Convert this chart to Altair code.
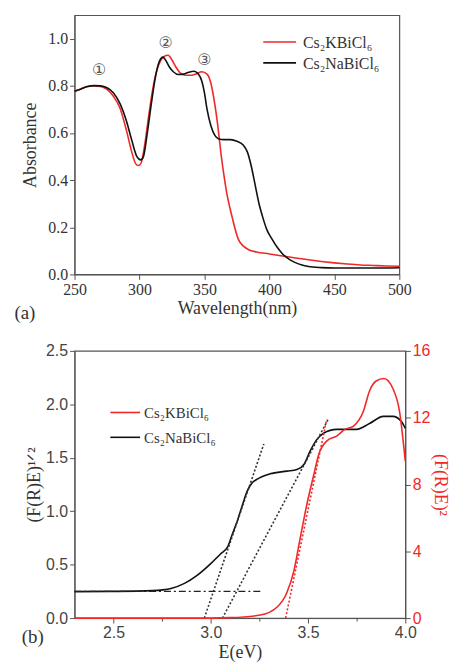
import altair as alt
import pandas as pd

# ---------------- data: panel (a) ----------------
wl_K = [250, 255, 260, 265, 270, 275, 280, 285, 290, 294, 297, 299, 301, 304, 307, 310, 313, 316, 319, 322,
        325, 328, 331, 335, 340, 344, 348, 352, 355, 358, 360.5, 363, 365, 367, 371, 376, 380, 384, 390, 400,
        410, 420, 430, 440, 450, 460, 470, 480, 490, 500]
abs_K = [0.777, 0.787, 0.797, 0.800, 0.798, 0.785, 0.755, 0.705, 0.61, 0.52, 0.47, 0.462, 0.47, 0.55, 0.67, 0.78,
         0.86, 0.905, 0.925, 0.93, 0.91, 0.88, 0.857, 0.845, 0.845, 0.852, 0.86, 0.85, 0.81, 0.72, 0.62, 0.5,
         0.42, 0.35, 0.25, 0.15, 0.12, 0.105, 0.095, 0.087, 0.078, 0.07, 0.062, 0.055, 0.049, 0.044, 0.04,
         0.038, 0.036, 0.035]
wl_Na = [250, 255, 260, 265, 270, 275, 280, 285, 290, 294, 298, 301, 303, 306, 309, 312, 315, 318, 320, 323,
         326, 330, 334, 338, 342, 345, 348, 350, 352, 355, 358, 361, 365, 370, 375, 380, 383, 386, 389, 392,
         395, 398, 402, 406, 410, 415, 420, 425, 430, 440, 450, 470, 490, 500]
abs_Na = [0.777, 0.787, 0.797, 0.801, 0.8, 0.792, 0.77, 0.725, 0.65, 0.57, 0.5, 0.486, 0.5, 0.6, 0.72, 0.83,
          0.9, 0.922, 0.91, 0.88, 0.86, 0.848, 0.85, 0.858, 0.862, 0.852, 0.82, 0.77, 0.7, 0.63, 0.59, 0.575,
          0.572, 0.572, 0.565, 0.548, 0.52, 0.46, 0.38, 0.3, 0.24, 0.19, 0.15, 0.115, 0.088, 0.065, 0.05, 0.04,
          0.034, 0.029, 0.027, 0.027, 0.027, 0.028]
peak_labels = ["①", "②", "③"]
peak_x = [269, 320, 350]
peak_y = [0.866, 0.98, 0.91]

# ---------------- data: panel (b) ----------------
E_Na = [2.30, 2.50, 2.70, 2.80, 2.865, 2.93, 3.00, 3.05, 3.086, 3.11, 3.137, 3.165, 3.188, 3.21, 3.239, 3.305,
        3.392, 3.443, 3.48, 3.51, 3.545, 3.58, 3.647, 3.75, 3.816, 3.887, 3.936, 3.98, 4.00]
F_Na = [0.248, 0.25, 0.257, 0.28, 0.325, 0.40, 0.51, 0.60, 0.663, 0.78, 0.91, 1.07, 1.19, 1.26, 1.30, 1.35,
        1.375, 1.39, 1.44, 1.56, 1.67, 1.73, 1.766, 1.766, 1.82, 1.887, 1.887, 1.84, 1.775]
E_K = [2.30, 2.60, 2.90, 3.10, 3.254, 3.34, 3.39, 3.428, 3.46, 3.494, 3.53, 3.555, 3.596, 3.647, 3.69, 3.734,
       3.785, 3.816, 3.85, 3.89, 3.936, 3.97, 4.00]
F_K = [0.0, 0.0, 0.0, 0.03, 0.18, 0.65, 1.49, 2.86, 4.8, 6.8, 8.6, 9.8, 10.6, 10.9, 11.3, 11.5, 12.4, 13.6,
       14.2, 14.35, 13.75, 12.4, 9.4]
fit1_E = [2.967, 3.273]
fit1_F = [0.0, 1.63]
fit2_E = [3.06, 3.604]
fit2_F = [0.0, 1.86]
fitK_E = [3.385, 3.596]
fitK_F = [0.0, 11.9]
base_E = [2.3, 3.26]
base_F = [0.25, 0.25]

series = ["Cs₂KBiCl₆", "Cs₂NaBiCl₆"]
RED = "#f02828"
BLK = "#111111"
SERIF = "Liberation Serif"
SANS = "Liberation Sans"
GRAY = "#333333"

color_scale = alt.Scale(domain=series, range=[RED, BLK])


def legend_layer(x0, x1, ys, tx, fsize):
    parts = []
    cols = [RED, BLK]
    for name, yy, c in zip(series, ys, cols):
        d = pd.DataFrame({"t": [name]})
        parts.append(alt.Chart(d).mark_rule(color=c, strokeWidth=1.6).encode(
            x=alt.value(x0), x2=alt.value(x1), y=alt.value(yy)))
        parts.append(alt.Chart(d).mark_text(font=SERIF, fontSize=fsize, color=GRAY, align="left",
                                            baseline="middle").encode(
            x=alt.value(tx), y=alt.value(yy + 1), text="t:N"))
    return parts


# ---------------- panel (a) ----------------
dfa = pd.concat([
    pd.DataFrame({"x": wl_K, "y": abs_K, "s": series[0]}),
    pd.DataFrame({"x": wl_Na, "y": abs_Na, "s": series[1]}),
])
dfp = pd.DataFrame({"x": peak_x, "y": peak_y, "t": peak_labels})

common_a = dict(grid=False, labelFont=SERIF, labelFontSize=16, labelColor=GRAY, labelOverlap=False,
                labelFlush=False, titleFont=SERIF, titleFontSize=18, titleFontWeight="normal",
                titleColor=GRAY, domainColor="#555", tickColor="#555", labelPadding=2)

xa = alt.X("x:Q", scale=alt.Scale(domain=[250, 500], nice=False),
           axis=alt.Axis(title="Wavelength(nm)", values=list(range(250, 501, 25)),
                         labelExpr="datum.value % 50 == 0 ? datum.label : ''", format="d",
                         tickSize={"condition": {"test": "datum.value % 50 == 0", "value": 5}, "value": 3},
                         titlePadding=2, **common_a))
ya = alt.Y("y:Q", scale=alt.Scale(domain=[0, 1.1], nice=False),
           axis=alt.Axis(title="Absorbance", values=[round(i * 0.1, 1) for i in range(0, 12)],
                         labelExpr="round(datum.value*10) % 2 == 0 ? datum.label : ''", format=".1f",
                         tickSize={"condition": {"test": "round(datum.value*10) % 2 == 0", "value": 5}, "value": 3},
                         titlePadding=8, **common_a))

lines_a = alt.Chart(dfa).mark_line(strokeWidth=1.6, interpolate="monotone").encode(
    x=xa, y=ya,
    color=alt.Color("s:N", scale=color_scale, legend=None),
    order="x:Q",
)
peaks = alt.Chart(dfp).mark_text(font="DejaVu Sans", fontSize=16, color="#555").encode(
    x="x:Q", y="y:Q", text="t:N")
tag_a = alt.Chart(pd.DataFrame({"t": ["(a)"]})).mark_text(
    font=SERIF, fontSize=19, color=GRAY, align="center", baseline="middle").encode(
    x=alt.value(-50), y=alt.value(300), text="t:N")

panel_a = alt.layer(lines_a, peaks, tag_a, *legend_layer(190, 223, [27, 48], 230, 16)).properties(
    width=327, height=261)

# ---------------- panel (b) ----------------
dfb_na = pd.DataFrame({"x": E_Na, "y": F_Na, "s": series[1]})
dfb_k = pd.DataFrame({"x": E_K, "y": F_K, "s": series[0]})
df_fit = pd.concat([
    pd.DataFrame({"x": fit1_E, "y": fit1_F, "g": "f1"}),
    pd.DataFrame({"x": fit2_E, "y": fit2_F, "g": "f2"}),
])
df_base = pd.DataFrame({"x": base_E, "y": base_F})
df_fitk = pd.DataFrame({"x": fitK_E, "y": fitK_F})

common_b = dict(grid=False, labelFont=SANS, labelFontSize=16, labelOverlap=False, labelFlush=False,
                titleFont=SERIF, titleFontSize=18, titleFontWeight="normal",
                domainColor="#555", tickColor="#555", labelPadding=2)

xb = alt.X("x:Q", scale=alt.Scale(domain=[2.3, 4.0], nice=False),
           axis=alt.Axis(title="E(eV)", values=[2.5, 2.75, 3.0, 3.25, 3.5, 3.75, 4.0],
                         labelExpr="round(datum.value*100) % 50 == 0 ? format(datum.value, '.1f') : ''",
                         tickSize={"condition": {"test": "round(datum.value*100) % 50 == 0", "value": 5}, "value": 3},
                         labelColor="#444", titleColor=GRAY, titlePadding=3, **common_b))
yb = alt.Y("y:Q", scale=alt.Scale(domain=[0, 2.5], nice=False),
           axis=alt.Axis(title="(F(R)E)¹ᐟ²", values=[round(i * 0.25, 2) for i in range(0, 11)],
                         labelExpr="round(datum.value*100) % 50 == 0 ? format(datum.value, '.1f') : ''",
                         tickSize={"condition": {"test": "round(datum.value*100) % 50 == 0", "value": 5}, "value": 3},
                         labelColor="#444", titleColor=GRAY, titlePadding=2, **common_b))
yr = alt.Y("y:Q", scale=alt.Scale(domain=[0, 16], nice=False),
           axis=alt.Axis(title="(F(R)E)²", orient="right", values=list(range(0, 17, 2)),
                         labelExpr="datum.value % 4 == 0 ? datum.label : ''", format="d",
                         tickSize={"condition": {"test": "datum.value % 4 == 0", "value": 5}, "value": 3},
                         labelColor=RED, titleColor=RED, titlePadding=1, **common_b))

na_line = alt.Chart(dfb_na).mark_line(strokeWidth=1.6, interpolate="monotone", color=BLK).encode(
    x=xb, y=yb, order="x:Q")
fit_lines = alt.Chart(df_fit).mark_line(strokeWidth=1.6, strokeDash=[2, 2], color="#333").encode(
    x="x:Q", y="y:Q", detail="g:N")
base_line = alt.Chart(df_base).mark_line(strokeWidth=1.3, strokeDash=[7, 3, 2, 3], color="#222").encode(
    x="x:Q", y="y:Q")
tag_b = alt.Chart(pd.DataFrame({"t": ["(b)"]})).mark_text(
    font=SERIF, fontSize=19, color=GRAY, align="center", baseline="middle").encode(
    x=alt.value(-42), y=alt.value(288), text="t:N")
left_b = alt.layer(na_line, fit_lines, base_line, tag_b, *legend_layer(36, 66, [62, 87], 70, 15))

k_line = alt.Chart(dfb_k).mark_line(strokeWidth=1.6, interpolate="monotone", color=RED).encode(
    x=xb, y=yr, order="x:Q")
fitk_line = alt.Chart(df_fitk).mark_line(strokeWidth=1.6, strokeDash=[2, 2], color=RED).encode(
    x="x:Q", y="y:Q")
right_b = alt.layer(k_line, fitk_line)

panel_b = alt.layer(left_b, right_b).resolve_scale(y="independent").properties(width=333, height=269)

chart = alt.vconcat(panel_a, panel_b, spacing=18).configure_view(
    stroke="#555", strokeWidth=1.2
).properties(padding={"left": 5, "top": 4, "right": 0, "bottom": 0})

chart.save("out.html", embed_options={"renderer": "svg", "actions": False})
